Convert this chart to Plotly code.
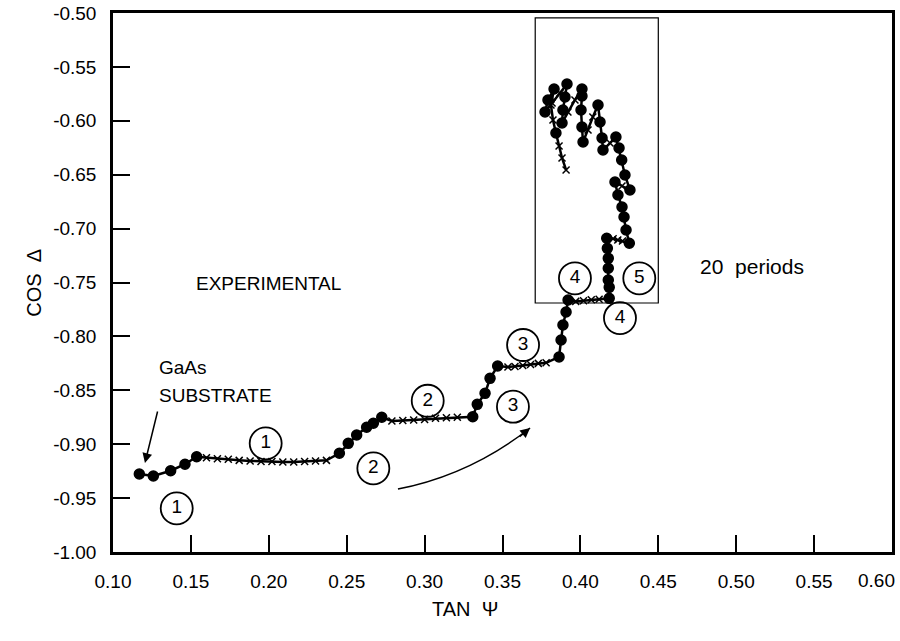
import plotly.graph_objects as go

# ---- data ----
tan_psi = [
    0.1169, 0.1259, 0.1370, 0.1462, 0.1537,
    0.160, 0.167, 0.174, 0.181, 0.188, 0.195, 0.202, 0.209, 0.216, 0.223, 0.230, 0.237,
    0.2453, 0.2510, 0.2564, 0.2628, 0.2671, 0.2725,
    0.279, 0.286, 0.293, 0.300, 0.307, 0.314, 0.321,
    0.3309, 0.3338, 0.3388, 0.3420, 0.3469,
    0.3535, 0.358, 0.363, 0.368, 0.373, 0.378,
    0.3863, 0.3876, 0.3888, 0.3908, 0.3921,
    0.397, 0.402, 0.407, 0.412,
    0.4185, 0.4185, 0.4179, 0.4179, 0.4179, 0.4173, 0.4169,
    0.421, 0.424, 0.427,
    0.4314, 0.4293, 0.4280, 0.4267, 0.4241, 0.4222,
    0.4267,
    0.4318, 0.4286, 0.4265, 0.4248, 0.4228,
    0.419,
    0.4145, 0.4139, 0.4126, 0.4113,
    0.408, 0.4049,
    0.4017, 0.4010, 0.4004, 0.4010, 0.4010,
    0.3965, 0.392,
    0.3882, 0.3888, 0.3901, 0.3914,
    0.3869, 0.3818,
    0.3773, 0.3792, 0.3831,
    0.3811, 0.3824, 0.3843, 0.3863, 0.3882, 0.3908,
]
cos_delta = [
    -0.9276, -0.9295, -0.9246, -0.9186, -0.9116,
    -0.9125, -0.9135, -0.9140, -0.9150, -0.9155, -0.9160, -0.9160, -0.9165, -0.9165, -0.9160, -0.9155, -0.9150,
    -0.9084, -0.8992, -0.8915, -0.8843, -0.8806, -0.8750,
    -0.8785, -0.8780, -0.8775, -0.8770, -0.8760, -0.8755, -0.8750,
    -0.8745, -0.8630, -0.8528, -0.8389, -0.8275,
    -0.8284, -0.8280, -0.8270, -0.8260, -0.8250, -0.8245,
    -0.8191, -0.8033, -0.7894, -0.7774, -0.7662,
    -0.7675, -0.7670, -0.7660, -0.7655,
    -0.7647, -0.7545, -0.7477, -0.7368, -0.7276, -0.7183, -0.7090,
    -0.7095, -0.7105, -0.7115,
    -0.7136, -0.7013, -0.6892, -0.6800, -0.6688, -0.6568,
    -0.6605,
    -0.6642, -0.6503, -0.6364, -0.6252, -0.6150,
    -0.6206,
    -0.6271, -0.6160, -0.6011, -0.5853,
    -0.5965, -0.6085,
    -0.6197, -0.6058, -0.5900, -0.5770, -0.5705,
    -0.5807, -0.5918,
    -0.6020, -0.5900, -0.5779, -0.5659,
    -0.5742, -0.5835,
    -0.5918, -0.5807, -0.5705,
    -0.5853, -0.5993, -0.6113, -0.6234, -0.6345, -0.6456,
]
# d = measured point (dot), c = intermediate point (cross)
point_kind = (
    "ddddd" + "cccccccccccc" + "dddddd" + "ccccccc" + "ddddd" + "cccccc" +
    "ddddd" + "cccc" + "ddddddd" + "ccc" + "dddddd" + "c" + "ddddd" + "c" +
    "dddd" + "cc" + "ddddd" + "cc" + "dddd" + "cc" + "ddd" + "ccdccc"
)

label_text = ["1", "1", "2", "2", "3", "3", "4", "5", "4"]
label_x = [0.1409, 0.1980, 0.2671, 0.3020, 0.3632, 0.3567, 0.3965, 0.4378, 0.4254]
label_y = [-0.9595, -0.8992, -0.9224, -0.8597, -0.8080, -0.8652, -0.7461, -0.7461, -0.7830]

x_ticks = [0.10, 0.15, 0.20, 0.25, 0.30, 0.35, 0.40, 0.45, 0.50, 0.55, 0.60]
x_tick_labels = ["0.10", "0.15", "0.20", "0.25", "0.30", "0.35", "0.40", "0.45", "0.50", "0.55", "0.60"]
y_ticks = [-1.00, -0.95, -0.90, -0.85, -0.80, -0.75, -0.70, -0.65, -0.60, -0.55, -0.50]
y_tick_labels = ["-1.00", "-0.95", "-0.90", "-0.85", "-0.80", "-0.75", "-0.70", "-0.65", "-0.60", "-0.55", "-0.50"]

inset_box = dict(x0=0.371, x1=0.450, y0=-0.769, y1=-0.5045)

FONT = "Liberation Sans"

fig = go.Figure()

symbols = ["circle" if k == "d" else "x-thin" for k in point_kind]
sizes = [10 if k == "d" else 7 for k in point_kind]

fig.add_trace(go.Scatter(
    x=tan_psi, y=cos_delta, mode="lines+markers",
    line=dict(color="black", width=2.5),
    marker=dict(symbol=symbols, size=sizes, color="black", opacity=1,
                line=dict(color="black", width=1.5)),
    hoverinfo="skip",
))

fig.add_trace(go.Scatter(
    x=label_x, y=label_y, mode="markers+text", text=label_text,
    textposition="middle center",
    textfont=dict(family=FONT, size=19, color="black"),
    marker=dict(symbol="circle-open", size=32, color="black", opacity=1,
                line=dict(color="black", width=1.8)),
    hoverinfo="skip",
))

fig.add_shape(type="rect", xref="x", yref="y", line=dict(color="black", width=1.2),
              **inset_box)

# curved arrow
fig.add_shape(type="path", xref="x", yref="y",
              path="M 0.2829,-0.9416 Q 0.3291,-0.9286 0.3677,-0.8850",
              line=dict(color="black", width=1.5))
fig.add_annotation(x=0.3677, y=-0.8850, ax=-12, ay=10, text="", showarrow=True,
                   arrowhead=2, arrowsize=1.3, arrowwidth=1.5, arrowcolor="black")

txt = dict(family=FONT, size=19, color="black")
fig.add_annotation(x=0.1995, y=-0.7505, text="EXPERIMENTAL", showarrow=False, font=txt)
fig.add_annotation(x=0.510, y=-0.7356, text="20\u00a0\u00a0periods", showarrow=False,
                   font=dict(family=FONT, size=21, color="black"))
fig.add_annotation(x=0.1282, y=-0.8284, text="GaAs", showarrow=False, font=txt,
                   xanchor="left")
fig.add_annotation(x=0.1282, y=-0.8544, text="SUBSTRATE", showarrow=False, font=txt,
                   xanchor="left")
fig.add_annotation(x=0.1205, y=-0.9174, ax=13, ay=-53, text="", showarrow=True,
                   arrowhead=2, arrowsize=1.3, arrowwidth=1.5, arrowcolor="black")

# last x tick label sits left of the frame corner in the reference
fig.add_annotation(x=x_ticks[-1], y=0, xref="x", yref="paper", yanchor="middle",
                   xanchor="right", xshift=5, yshift=-28, text=x_tick_labels[-1],
                   showarrow=False, font=dict(family=FONT, size=19, color="black"))

# axis titles
fig.add_annotation(x=0.326, y=-0.13, xref="x", yref="paper", text="TAN \u00a0\u03a8",
                   showarrow=False, font=dict(family=FONT, size=20, color="black"))
fig.add_annotation(x=-0.119, y=0.50, xref="paper", yref="paper", text="COS \u00a0\u0394",
                   showarrow=False, textangle=-90,
                   font=dict(family=FONT, size=20, color="black"))

axis_common = dict(
    ticks="inside", ticklen=17, tickwidth=1.5, tickcolor="black",
    showline=True, linewidth=2.5, linecolor="black", mirror=True,
    showgrid=False, zeroline=False, ticklabeloverflow="allow",
    tickfont=dict(family=FONT, size=19, color="black"),
)
fig.update_xaxes(range=[0.10, 0.60], tickvals=x_ticks,
                 ticktext=x_tick_labels[:-1] + [""],
                 ticklabelstandoff=10, **axis_common)
fig.update_yaxes(range=[-1.00, -0.50], tickvals=y_ticks, ticktext=y_tick_labels,
                 ticklabelstandoff=10, **axis_common)

fig.update_layout(
    width=900, height=641,
    margin=dict(l=113, r=8, t=13, b=89, autoexpand=False),
    plot_bgcolor="white", paper_bgcolor="white",
    showlegend=False,
    font=dict(family=FONT, color="black"),
)

fig.write_html("out.html", config={"displayModeBar": False},
               post_script="document.body.style.margin='0';document.body.style.overflow='hidden';")
